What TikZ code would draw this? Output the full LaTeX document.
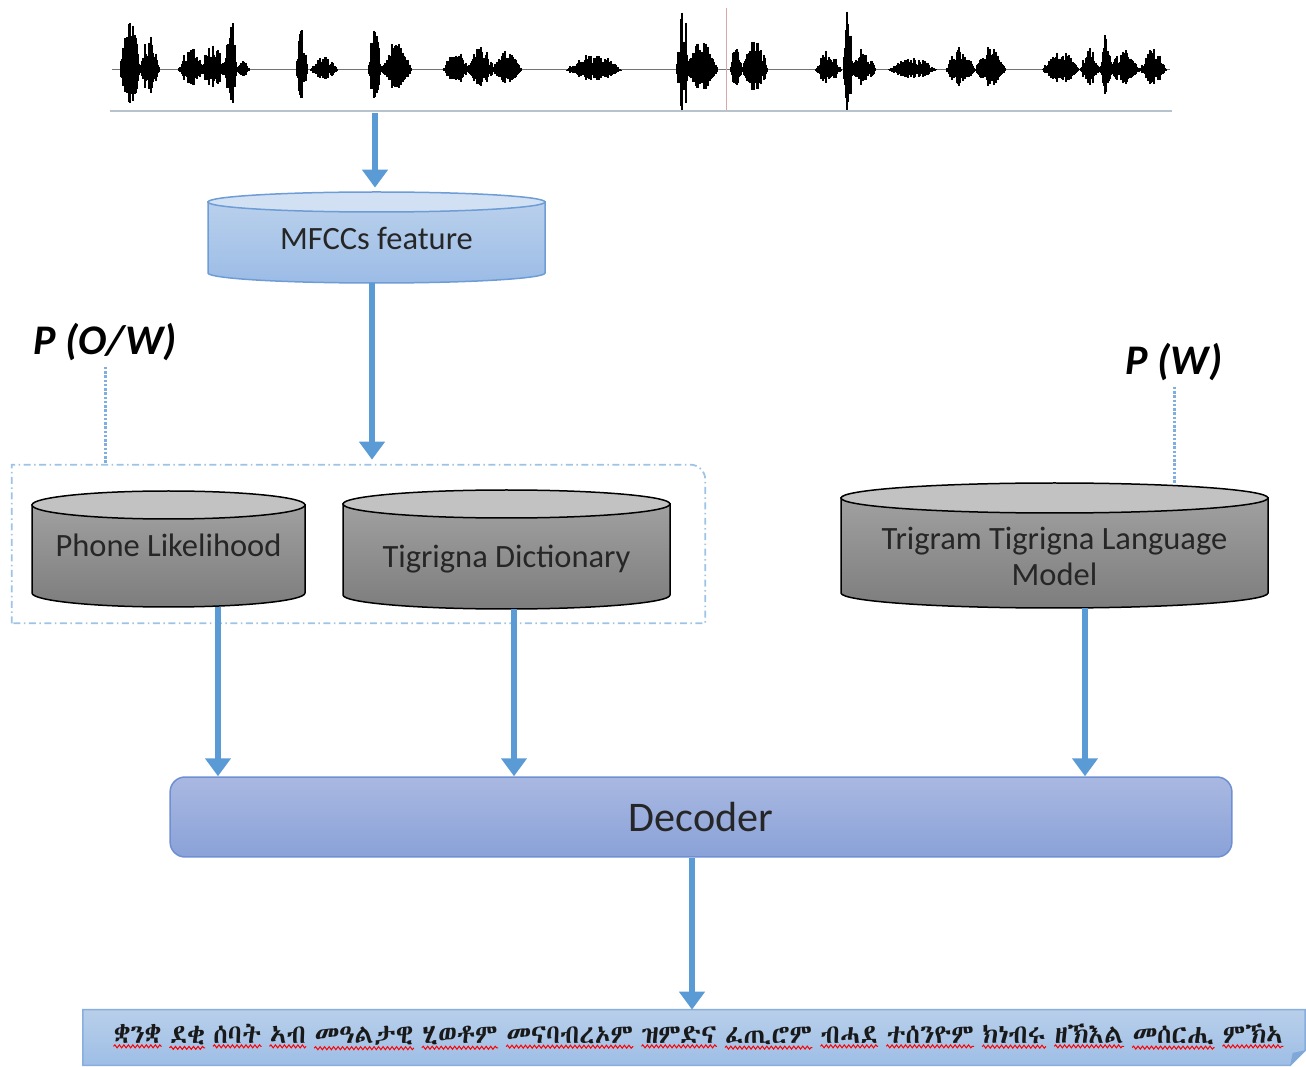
\documentclass[tikz,border=0pt]{standalone}
\usepackage{fontspec}
\setmainfont{Carlito}
\IfFontExistsTF{Abyssinica SIL}{\newfontfamily\ethfont{Abyssinica SIL}}{%
  \IfFontExistsTF{FreeSerif.otf}{\newfontfamily\ethfont{FreeSerif.otf}}{\let\ethfont\relax}}
\usetikzlibrary{arrows.meta,backgrounds,decorations.pathmorphing}

\definecolor{arrowblue}{HTML}{5B9BD5}
\definecolor{drumblue}{HTML}{6E9DD6}
\definecolor{mfcccap}{HTML}{D1E1F3}
\definecolor{mfcctop}{HTML}{B9D0EC}
\definecolor{mfccbot}{HTML}{9CBCE6}
\definecolor{graycap}{HTML}{C2C2C2}
\definecolor{graytop}{HTML}{A0A0A0}
\definecolor{graybot}{HTML}{7D7D7D}
\definecolor{dectop}{HTML}{A9B8E1}
\definecolor{decbot}{HTML}{8AA2D8}
\definecolor{decline}{HTML}{6F8FD3}
\definecolor{outtop}{HTML}{B8CFEA}
\definecolor{outbot}{HTML}{9EBEE6}
\definecolor{outline}{HTML}{87AEDD}
\definecolor{outfold}{HTML}{7FA7D8}
\definecolor{grpblue}{HTML}{9DC3E6}
\definecolor{dotblue}{HTML}{7FAEE0}
\definecolor{floorgray}{HTML}{B6C3CC}
\definecolor{cursorred}{HTML}{D8A7A7}

% one burst of the speech signal: start, end, amplitude
\newcommand{\wavburst}[3]{%
  \foreach \xx in {#1,...,#2}{%
    \pgfmathsetmacro{\hh}{#3*sin(180*(\xx-#1)/(#2-#1))*(0.35+0.65*rnd)}
    \draw[wave] (\xx,{-70+\hh}) -- (\xx,{-70-0.7*\hh});
  }%
}

% database drum: name, x, cap y, base y, half width, cap half height, look, text options, text
\newcommand{\drum}[9]{%
  \path[#7 body] ({#2-#5},#3) -- ({#2-#5},#4)
    arc[start angle=180,end angle=360,x radius=#5,y radius=#6] -- ({#2+#5},#3) -- cycle;
  \path[#7 cap] (#2,#3) ellipse[x radius=#5,y radius=#6];
  \node[drumtext, minimum width={0.04cm*#5}, minimum height={0.02cm*(#3-#4+2*#6)}]
    (#1) at (#2,{(#3+#4)/2}) {};
  \node[drumtext, #8] (#1-text) at (#1.center) {#9};
}

\tikzset{
  wave/.style={black, line width=0.028cm},
  bluedrum body/.style={draw=drumblue, line width=0.03cm, top color=mfcctop, bottom color=mfccbot},
  bluedrum cap/.style={draw=drumblue, line width=0.03cm, fill=mfcccap},
  graydrum body/.style={draw=black, line width=0.03cm, top color=graytop, bottom color=graybot},
  graydrum cap/.style={draw=black, line width=0.03cm, fill=graycap},
  drumtext/.style={font=\fontsize{18.5}{20}\selectfont, text=black!85, align=center, inner sep=0pt},
  flow/.style={draw=arrowblue, line width=0.11cm, -{Triangle[width=0.5cm,length=0.36cm]}},
  probtag/.style={font=\fontsize{24}{28}\selectfont\bfseries\itshape},
  probline/.style={draw=dotblue, line width=0.06cm, dash pattern=on 0.05cm off 0.035cm},
  grpline/.style={draw=grpblue, line width=0.035cm, dash pattern=on 0.14cm off 0.07cm on 0.03cm off 0.07cm},
  decoder/.style={draw=decline, line width=0.03cm, rounded corners=0.3cm, top color=dectop,
    bottom color=decbot, font=\fontsize{24}{28}\selectfont, text=black!85,
    minimum width=21.24cm, minimum height=1.6cm},
  outbox/.style={minimum width=24.44cm, minimum height=1.1cm, inner sep=0pt},
  outshape/.style={draw=outline, line width=0.03cm, top color=outtop, bottom color=outbot},
  word/.style={inner sep=0pt, anchor=base west, font=\ethfont\fontsize{15}{18}\selectfont, text=black!90},
  typo/.style={red, line width=0.02cm, decorate, decoration={snake, amplitude=0.03cm, segment length=0.09cm}}
}

\begin{document}
\begin{tikzpicture}[x=0.02cm,y=0.02cm]
\useasboundingbox (0,0) rectangle (1306,-1067);

% speech signal
\pgfmathsetseed{11}
\draw[black!55, line width=0.02cm] (112,-70) -- (1170,-70);
\foreach \a/\b/\m in {120/140/62, 140/160/38, 178/205/25, 200/226/28, 224/237/58, 236/250/10,
    296/308/42, 310/338/15, 368/381/48, 380/412/28, 443/470/20, 466/495/24, 492/522/21,
    566/622/17, 676/690/60, 686/718/30, 730/742/30, 742/768/35, 815/842/20, 843/853/62,
    850/876/22, 888/937/13, 946/975/24, 975/1006/24, 1042/1080/20, 1080/1100/22,
    1100/1112/38, 1110/1140/22, 1140/1167/22}
  {\wavburst{\a}{\b}{\m}}
\draw[cursorred, line width=0.02cm] (726,-8) -- (726,-112);
\draw[floorgray, line width=0.03cm] (110,-111) -- (1172,-111);
\coordinate (wav) at (375,-113);

% feature extraction
\drum{mfcc}{376.5}{-202}{-273}{168.5}{10}{bluedrum}{yshift=-0.02cm}{MFCCs feature}
\draw[flow, shorten >=0.08cm] (wav) -- (wav |- mfcc.north);

% acoustic model + lexicon
\node[inner sep=0, minimum width=13.86cm, minimum height=3.16cm] (grp) at (358.5,-544) {};
\draw[grpline] (grp.south west) -- (grp.north west) -- ([xshift=-0.3cm]grp.north east)
  arc[start angle=90,end angle=0,radius=15] -- (grp.south east) -- cycle;
\drum{phone}{168.5}{-505}{-593}{136.5}{14}{graydrum}{yshift=0.08cm}{Phone Likelihood}
\drum{dict}{506.5}{-504}{-595}{163.5}{14}{graydrum}{yshift=-0.2cm}{Tigrigna Dictionary}
\coordinate (mfcc-out) at ([xshift=-0.09cm]mfcc.south);
\draw[flow, shorten >=0.1cm] (mfcc-out) -- (mfcc-out |- grp.north);

% language model
\drum{lm}{1054.5}{-498}{-593}{213.5}{15}{graydrum}{yshift=-0.22cm}{Trigram Tigrigna Language\\Model}

% probabilities
\node[probtag] (pow) at (105,-342) {P (O/W)};
\draw[probline] (pow.south) -- (pow.south |- grp.north);
\node[probtag] (pw) at (1174,-362) {P (W)};
\draw[probline] (pw.south) -- (pw.south |- lm.north);

% decoding
\node[decoder] (dec) at (701,-817) {Decoder};
\coordinate (phone-out) at ([xshift=0.99cm]phone.south);
\coordinate (dict-out) at ([xshift=0.15cm]dict.south);
\coordinate (lm-out) at ([xshift=0.61cm]lm.south);
\draw[flow] (phone-out) -- (phone-out |- dec.north);
\draw[flow] (dict-out) -- (dict-out |- dec.north);
\draw[flow] (lm-out) -- (lm-out |- dec.north);

% recognised text
\node[outbox] (out) at (694,-1037.5) {};
\begin{scope}[on background layer]
  \path[outshape] (out.north west) -- (out.north east) -- ([yshift=0.3cm]out.south east)
    -- ([xshift=-0.3cm]out.south east) -- (out.south west) -- cycle;
  \fill[outfold] ([yshift=0.3cm]out.south east) -- ([xshift=-0.3cm]out.south east)
    -- ([xshift=-0.25cm,yshift=0.25cm]out.south east) -- cycle;
\end{scope}
\node[word] (w0) at (103,-1043) {};
\foreach \w [count=\i, remember=\i as \j (initially 0)] in {ቋንቋ, ደቂ, ሰባት, ኣብ, መዓልታዊ,
    ሂወቶም, መናባብረኦም, ዝምድና, ፈጢሮም, ብሓደ, ተሰንዮም, ክነብሩ, ዘኽእል, መሰርሒ, ምኽኣ}{
  \node[word] (w\i) at ([xshift=0.16cm]w\j.base east) {\w};
  \draw[typo] ([yshift=-0.06cm]w\i.south west) -- ([yshift=-0.06cm]w\i.south east);
}
\coordinate (dec-out) at ([xshift=-0.18cm]dec.south);
\draw[flow] (dec-out) -- (dec-out |- out.north);
\end{tikzpicture}
\end{document}
